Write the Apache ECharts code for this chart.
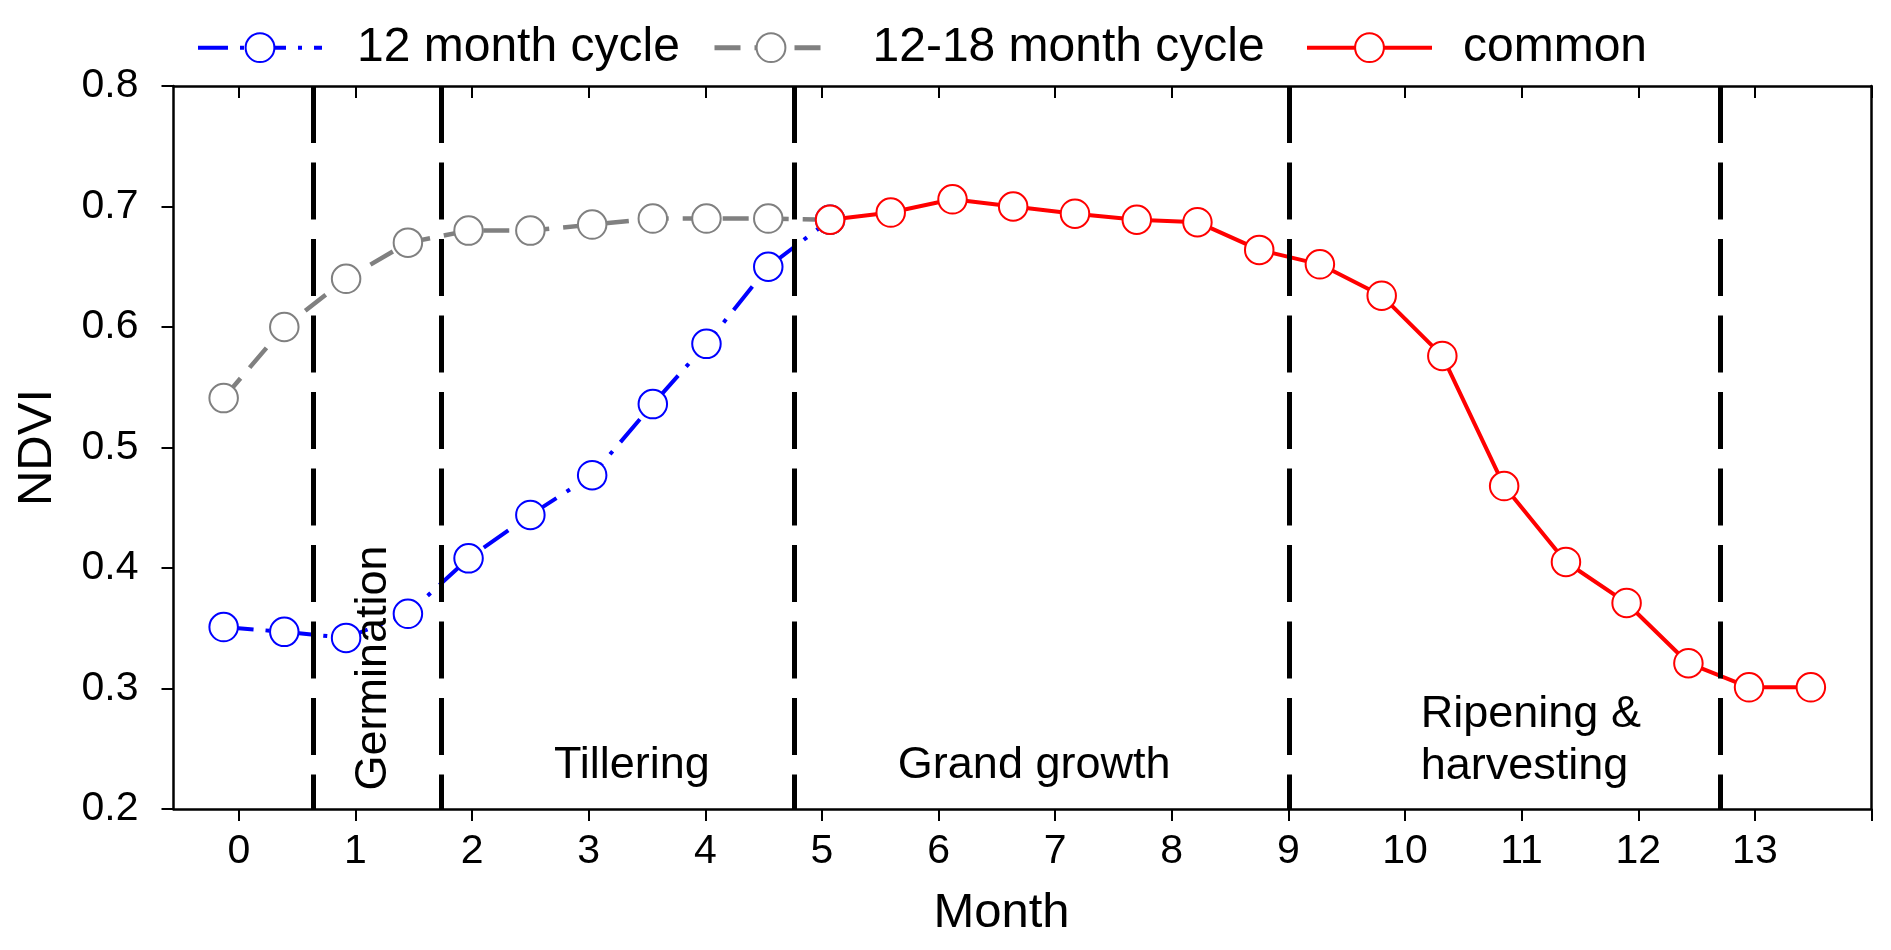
<!DOCTYPE html>
<html>
<head>
<meta charset="utf-8">
<script src="https://cdn.jsdelivr.net/npm/echarts@6/dist/echarts.min.js"></script>
<style>
html,body{margin:0;padding:0;background:#fff;}
#chart{width:1891px;height:950px;}
</style>
</head>
<body>
<div id="chart"></div>
<script>
// ---- data ----
const months = [-0.13, 0.39, 0.92, 1.45, 1.97, 2.50, 3.03, 3.55, 4.01, 4.54, 5.07, 5.59, 6.12, 6.64, 7.17, 7.70, 8.22, 8.75, 9.27, 9.80, 10.32, 10.85, 11.38, 11.90, 12.43, 12.95, 13.48];
// values for the first 11 dates (last one is the shared point)
const ndvi12 = [0.351, 0.347, 0.342, 0.362, 0.408, 0.444, 0.477, 0.536, 0.586, 0.650, 0.689];
const ndvi1218 = [0.541, 0.600, 0.640, 0.670, 0.680, 0.680, 0.685, 0.690, 0.690, 0.690, 0.689];
// common curve from date index 10 to 26
const ndviCommon = [0.689, 0.695, 0.706, 0.700, 0.694, 0.689, 0.687, 0.664, 0.652, 0.626, 0.576, 0.468, 0.405, 0.371, 0.321, 0.301, 0.301];
const commonStart = 10;
const stageBounds = [0.64, 1.74, 4.76, 9.01, 12.70];
const stageLabels = [
  {text: 'Germination', x: 1.16, y: 0.317, rotate: 90, align: 'center'},
  {text: 'Tillering', x: 3.37, y: 0.236, rotate: 0, align: 'center'},
  {text: 'Grand growth', x: 6.82, y: 0.236, rotate: 0, align: 'center'},
  {text: 'Ripening &\nharvesting', x: 10.135, y: 0.257, rotate: 0, align: 'left'}
];
const xTickValues = [0,1,2,3,4,5,6,7,8,9,10,11,12,13,14];
const xLabelValues = [0,1,2,3,4,5,6,7,8,9,10,11,12,13];
const seriesNames = ['12 month cycle', '12-18 month cycle', 'common'];

const FONT = 'Arial, "Liberation Sans", sans-serif';

const d12 = ndvi12.map((v, i) => [months[i], v]);
const d1218 = ndvi1218.map((v, i) => [months[i], v]);
const dCommon = ndviCommon.map((v, i) => [months[commonStart + i], v]);

const chart = echarts.init(document.getElementById('chart'), null, {renderer: 'canvas'});

function legendFor(name, left, w, pad, lw) {
  return {
    data: [name], left: left, top: 18.7, orient: 'horizontal',
    itemWidth: w, itemHeight: 36,
    lineStyle: {width: lw},
    textStyle: {fontSize: 48, color: '#000', fontFamily: FONT, padding: [0, 0, 0, pad]},
    selectedMode: false
  };
}

const xCommon = {
  type: 'value', min: -0.56, max: 14,
  splitLine: {show: false}
};

chart.setOption({
  animation: false,
  backgroundColor: '#fff',
  legend: [
    legendFor(seriesNames[0], 191, 124, 30, 4),
    legendFor(seriesNames[1], 707, 113, 40, 5),
    legendFor(seriesNames[2], 1300, 125, 26, 4)
  ],
  grid: {left: 173.5, right: 19.5, top: 86, bottom: 141, containLabel: false},
  xAxis: [
    Object.assign({}, xCommon, {
      position: 'bottom',
      axisLine: {show: true, onZero: false, lineStyle: {color: '#000', width: 2.5}},
      axisTick: {show: true, inside: false, length: 12, lineStyle: {color: '#000', width: 2}, customValues: xTickValues},
      axisLabel: {show: true, customValues: xLabelValues, fontSize: 41, color: '#000', fontFamily: FONT, margin: 22},
      name: 'Month', nameLocation: 'middle', nameGap: 80,
      nameTextStyle: {fontSize: 49, color: '#000', fontFamily: FONT, padding: [0, 42, 0, 0]}
    }),
    Object.assign({}, xCommon, {
      position: 'top',
      axisLine: {show: true, onZero: false, lineStyle: {color: '#000', width: 2.5}},
      axisTick: {show: true, inside: true, length: 12, lineStyle: {color: '#000', width: 2}, customValues: xTickValues},
      axisLabel: {show: false}
    })
  ],
  yAxis: [
    {
      type: 'value', min: 0.2, max: 0.8, interval: 0.1, position: 'left',
      splitLine: {show: false},
      axisLine: {show: true, onZero: false, lineStyle: {color: '#000', width: 2.5}},
      axisTick: {show: true, inside: false, length: 12, lineStyle: {color: '#000', width: 2}},
      axisLabel: {fontSize: 41, color: '#000', fontFamily: FONT, margin: 35, formatter: v => v.toFixed(1)},
      name: 'NDVI', nameLocation: 'middle', nameGap: 112, nameRotate: 90,
      nameTextStyle: {fontSize: 49, color: '#000', fontFamily: FONT}
    },
    {
      type: 'value', min: 0.2, max: 0.8, position: 'right',
      splitLine: {show: false},
      axisLine: {show: true, onZero: false, lineStyle: {color: '#000', width: 2.5}},
      axisTick: {show: false}, axisLabel: {show: false}
    }
  ],
  series: [
    {
      name: 'stages', type: 'line', data: [], silent: true,
      markLine: {
        silent: true, symbol: ['none', 'none'], animation: false,
        label: {show: false},
        lineStyle: {color: '#000', width: 5, type: [57, 19.5]},
        emphasis: {disabled: true},
        data: stageBounds.map(v => [{coord: [v, 0.8]}, {coord: [v, 0.2]}])
      }
    },
    {
      name: seriesNames[0], type: 'line', data: d12,
      symbol: 'emptyCircle', symbolSize: 28.5, color: '#0000ff',
      itemStyle: {color: '#0000ff', borderWidth: 2},
      lineStyle: {color: '#0000ff', width: 4, type: [30, 12, 4, 12]},
      emphasis: {disabled: true}, z: 3
    },
    {
      name: seriesNames[1], type: 'line', data: d1218,
      symbol: 'emptyCircle', symbolSize: 28.5, color: '#808080',
      itemStyle: {color: '#808080', borderWidth: 2},
      lineStyle: {color: '#808080', width: 4.5, type: [26, 14]},
      emphasis: {disabled: true}, z: 3
    },
    {
      name: seriesNames[2], type: 'line', data: dCommon,
      symbol: 'emptyCircle', symbolSize: 28.5, color: '#ff0000',
      itemStyle: {color: '#ff0000', borderWidth: 2.2},
      lineStyle: {color: '#ff0000', width: 4},
      emphasis: {disabled: true}, z: 4
    },
    {
      name: 'labels', type: 'scatter', symbolSize: 0, silent: true,
      itemStyle: {opacity: 1},
      data: stageLabels.map(s => ({
        value: [s.x, s.y],
        label: {
          show: true, position: 'inside', formatter: s.text, rotate: s.rotate,
          align: s.align, verticalAlign: 'middle', opacity: 1,
          fontSize: 45, lineHeight: 52, color: '#000', fontFamily: FONT
        }
      })),
      z: 5
    }
  ]
});
</script>
</body>
</html>
